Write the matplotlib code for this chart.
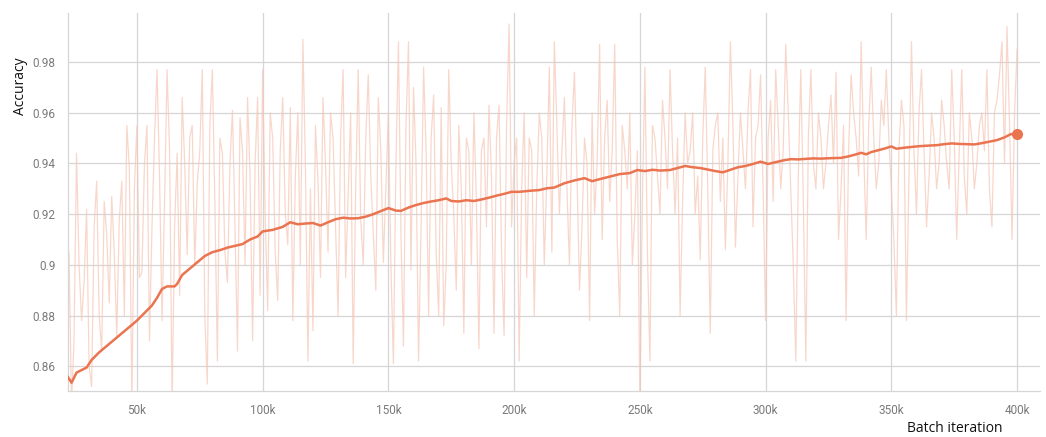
import numpy as np
import matplotlib
matplotlib.use("Agg")
import matplotlib.pyplot as plt
from matplotlib.ticker import FuncFormatter

# raw accuracy logged at even thousands (22k, 24k, .. 400k)
raw_even = [
    0.894, 0.845, 0.944, 0.878, 0.922, 0.852, 0.933, 0.866, 0.912, 0.927,
    0.872, 0.933, 0.955, 0.845, 0.955, 0.897, 0.955, 0.915, 0.977, 0.878,
    0.977, 0.845, 0.944, 0.966, 0.904, 0.955, 0.932, 0.977, 0.853, 0.977,
    0.862, 0.944, 0.893, 0.961, 0.866, 0.945, 0.966, 0.870, 0.966, 0.977,
    0.882, 0.950, 0.886, 0.966, 0.908, 0.878, 0.960, 0.989, 0.862, 0.874,
    0.933, 0.966, 0.905, 0.950, 0.880, 0.977, 0.928, 0.861, 0.977, 0.900,
    0.975, 0.912, 0.966, 0.901, 0.960, 0.861, 0.988, 0.868, 0.988, 0.970,
    0.862, 0.978, 0.880, 0.967, 0.880, 0.876, 0.977, 0.920, 0.955, 0.873,
    0.945, 0.960, 0.867, 0.950, 0.963, 0.873, 0.963, 0.872, 0.995, 0.940,
    0.862, 0.960, 0.950, 0.880, 0.960, 0.900, 0.978, 0.988, 0.920, 0.966,
    0.900, 0.976, 0.890, 0.950, 0.878, 0.920, 0.987, 0.950, 0.925, 0.987,
    0.880, 0.945, 0.960, 0.920, 0.845, 0.978, 0.862, 0.950, 0.920, 0.950,
    0.977, 0.920, 0.880, 0.960, 0.945, 0.920, 0.902, 0.978, 0.873, 0.955,
    0.925, 0.906, 0.988, 0.907, 0.960, 0.930, 0.977, 0.950, 0.975, 0.878,
    0.965, 0.977, 0.930, 0.987, 0.930, 0.862, 0.977, 0.862, 0.977, 0.930,
    0.950, 0.940, 0.967, 0.976, 0.930, 0.878, 0.975, 0.950, 0.988, 0.910,
    0.978, 0.930, 0.965, 0.977, 0.930, 0.880, 0.965, 0.878, 0.988, 0.920,
    0.977, 0.915, 0.960, 0.930, 0.965, 0.940, 0.977, 0.910, 0.977, 0.920,
    0.950, 0.940, 0.960, 0.977, 0.915, 0.965, 0.988, 0.994, 0.910, 0.985,
]
# raw accuracy at odd thousands (23k, 25k, .. 399k)
raw_odd = [
    0.905, 0.870, 0.900, 0.893, 0.860, 0.915, 0.880, 0.925, 0.885, 0.905,
    0.918, 0.880, 0.938, 0.930, 0.895, 0.940, 0.870, 0.950, 0.935, 0.925,
    0.945, 0.915, 0.888, 0.940, 0.950, 0.900, 0.945, 0.880, 0.955, 0.925,
    0.950, 0.905, 0.940, 0.915, 0.958, 0.900, 0.935, 0.940, 0.888, 0.920,
    0.960, 0.905, 0.945, 0.920, 0.962, 0.935, 0.900, 0.940, 0.930, 0.955,
    0.895, 0.940, 0.960, 0.915, 0.950, 0.895, 0.960, 0.930, 0.918, 0.950,
    0.935, 0.890, 0.945, 0.930, 0.900, 0.940, 0.912, 0.955, 0.898, 0.940,
    0.915, 0.945, 0.950, 0.905, 0.962, 0.900, 0.940, 0.890, 0.930, 0.950,
    0.900, 0.925, 0.945, 0.915, 0.935, 0.950, 0.905, 0.955, 0.915, 0.950,
    0.930, 0.895, 0.945, 0.930, 0.950, 0.935, 0.905, 0.955, 0.945, 0.930,
    0.955, 0.935, 0.915, 0.940, 0.960, 0.940, 0.910, 0.965, 0.945, 0.910,
    0.955, 0.930, 0.900, 0.945, 0.925, 0.905, 0.955, 0.935, 0.965, 0.930,
    0.945, 0.950, 0.925, 0.940, 0.960, 0.935, 0.950, 0.930, 0.945, 0.960,
    0.950, 0.940, 0.955, 0.935, 0.945, 0.960, 0.915, 0.955, 0.930, 0.950,
    0.925, 0.955, 0.945, 0.960, 0.900, 0.935, 0.925, 0.950, 0.940, 0.960,
    0.930, 0.955, 0.940, 0.910, 0.955, 0.945, 0.960, 0.935, 0.945, 0.955,
    0.950, 0.940, 0.955, 0.950, 0.910, 0.945, 0.955, 0.935, 0.945, 0.960,
    0.945, 0.935, 0.950, 0.940, 0.955, 0.930, 0.950, 0.945, 0.935, 0.960,
    0.930, 0.955, 0.945, 0.930, 0.960, 0.975, 0.940, 0.955, 0.960,
]

# smoothed curve (k iterations, accuracy)
smooth_k = [
    22.6, 24, 26, 28, 30, 32, 35, 38, 41, 44, 47, 50, 53, 56, 58, 60, 62, 65, 66, 68,
    71, 74, 77, 80, 83, 86, 89, 92, 95, 98, 100, 104, 108, 111, 114, 117, 120, 123, 126, 129,
    132, 135, 138, 141, 144, 147, 150, 153, 155, 158, 161, 164, 167, 170, 173, 175, 178, 181, 184, 187,
    190, 193, 196, 199, 202, 206, 210, 213, 216, 220, 224, 228, 231, 234, 238, 242, 246, 249, 252, 255,
    258, 262, 265, 268, 271, 274, 277, 280, 283, 286, 289, 292, 295, 298, 301, 304, 307, 310, 313, 316,
    319, 322, 326, 330, 333, 336, 338, 340, 342, 344, 347, 350, 352, 355, 358, 361, 364, 368, 371, 374,
    377, 380, 383, 386, 389, 392, 395, 397.6, 400,
]
smooth_acc = [
    0.8557, 0.8535, 0.8575, 0.8585, 0.8595, 0.8625, 0.8655, 0.8680, 0.8705, 0.8730,
    0.8755, 0.8780, 0.8810, 0.8840, 0.8870, 0.8905, 0.8915, 0.8915, 0.8925, 0.8960,
    0.8985, 0.9010, 0.9035, 0.9050, 0.9058, 0.9068, 0.9075, 0.9082, 0.9100, 0.9112,
    0.9132, 0.9138, 0.9150, 0.9168, 0.9160, 0.9163, 0.9165, 0.9155, 0.9168, 0.9180,
    0.9186, 0.9183, 0.9184, 0.9190, 0.9200, 0.9212, 0.9224, 0.9214, 0.9213, 0.9226,
    0.9236, 0.9244, 0.9250, 0.9255, 0.9262, 0.9252, 0.9250, 0.9255, 0.9252, 0.9258,
    0.9265, 0.9273, 0.9280, 0.9288, 0.9288, 0.9292, 0.9295, 0.9302, 0.9305, 0.9322,
    0.9333, 0.9342, 0.9330, 0.9338, 0.9348, 0.9358, 0.9362, 0.9374, 0.9370, 0.9375,
    0.9372, 0.9374, 0.9382, 0.9390, 0.9385, 0.9382, 0.9376, 0.9370, 0.9365, 0.9375,
    0.9385, 0.9390, 0.9398, 0.9407, 0.9398, 0.9405, 0.9412, 0.9417, 0.9416, 0.9418,
    0.9420, 0.9419, 0.9421, 0.9422, 0.9428, 0.9436, 0.9442, 0.9436, 0.9445, 0.9450,
    0.9458, 0.9467, 0.9458, 0.9462, 0.9465, 0.9468, 0.9470, 0.9472, 0.9476, 0.9479,
    0.9477, 0.9476, 0.9475, 0.9480, 0.9486, 0.9492, 0.9503, 0.9516, 0.9515,
]

y_ticks = [0.86, 0.88, 0.90, 0.92, 0.94, 0.96, 0.98]
x_ticks = [50000, 100000, 150000, 200000, 250000, 300000, 350000, 400000]

line_col = "#ea7450"
grid_col = "#d6d6d6"

# interleave even/odd logs into one series
raw_step = np.arange(22, 401) * 1000
raw_acc = np.empty(len(raw_step))
raw_acc[0::2] = raw_even
raw_acc[1::2] = raw_odd

fig = plt.figure(figsize=(10.46, 4.37), dpi=100)
ax = fig.add_axes([0.065, 0.105, 0.929, 0.865])

ax.plot(raw_step, raw_acc, color="#f6c6b6", lw=0.9, alpha=0.7, zorder=2)
sx = np.array(smooth_k) * 1000
ax.plot(sx, smooth_acc, color=line_col, lw=1.8, zorder=3)
ax.plot(sx[-1], smooth_acc[-1], "o", color=line_col, ms=7, zorder=4)

ax.set_xlim(22600, 409000)
ax.set_ylim(0.8502, 0.9993)
ax.set_yticks(y_ticks)
ax.set_xticks(x_ticks)
ax.yaxis.set_major_formatter(FuncFormatter(lambda v, p: f"{v:.2f}".rstrip("0")))
ax.xaxis.set_major_formatter(FuncFormatter(lambda v, p: f"{int(v / 1000)}k"))

ax.grid(True, color=grid_col, lw=0.9, zorder=0)
for s in ["top", "right"]:
    ax.spines[s].set_visible(False)
for s in ["left", "bottom"]:
    ax.spines[s].set_color(grid_col)
    ax.spines[s].set_linewidth(0.9)
ax.tick_params(length=0, pad=9, labelcolor="#7a7a7a")
for lab in ax.get_xticklabels() + ax.get_yticklabels():
    lab.set_fontfamily("Roboto")
    lab.set_fontsize(8.5)

fig.text(0.020, 0.803, "Accuracy", rotation=90, ha="center", va="center",
         fontsize=10, family="Open Sans", color="#111111")
fig.text(0.913, 0.020, "Batch iteration", ha="center", va="center",
         fontsize=10, family="Open Sans", color="#111111")

fig.savefig("out.png", dpi=100)
